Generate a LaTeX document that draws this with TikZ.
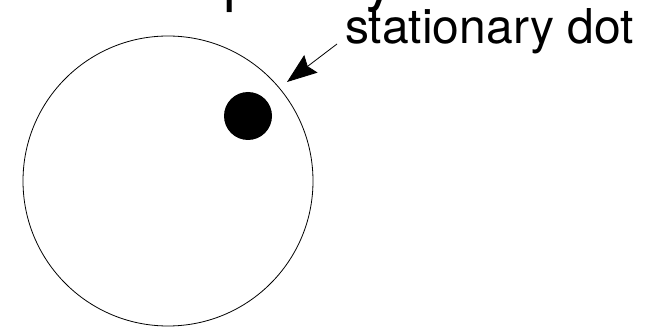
\documentclass[tikz,border=0pt]{standalone}
\usepackage{fontspec}
\setmainfont{TeX Gyre Heros}
\usetikzlibrary{arrows.meta}

\begin{document}
\begin{tikzpicture}[x=1pt,y=1pt,>={Stealth[length=30pt,width=22pt,inset=4pt]}]
  \useasboundingbox (0,0) rectangle (656,327);
  % wheel and the dot painted on it
  \node[circle,draw,line width=0.8pt,minimum size=290pt,inner sep=0pt] (wheel) at (168,146) {};
  \node[circle,fill=black,minimum size=48pt,inner sep=0pt] (dot) at (248,211) {};
  % title, cut off by the top edge
  \node[anchor=base east,inner sep=0pt,font=\fontsize{60}{60}\selectfont] (title) at (396,327) {frequency};
  % label with its arrow
  \node[anchor=base west,inner sep=0pt,font=\fontsize{48}{48}\selectfont] (label) at (345,283) {stationary dot};
  \coordinate (dottip) at (287,245);
  \draw[->,line width=0.8pt] ([xshift=-8pt]label.base west) -- (dottip);
\end{tikzpicture}
\end{document}
